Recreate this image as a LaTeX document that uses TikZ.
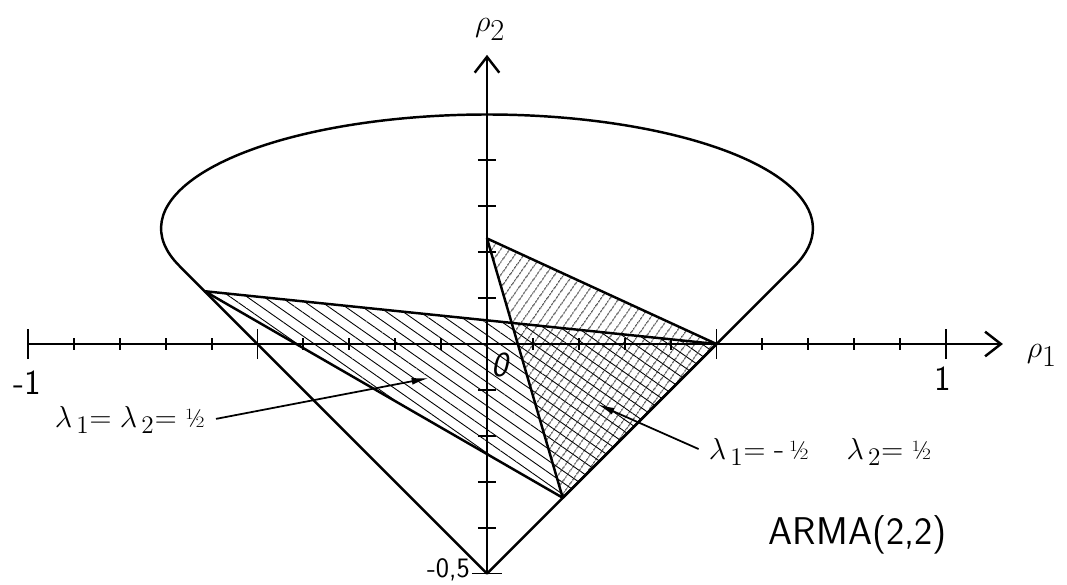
\documentclass[tikz,border=0pt]{standalone}
\usepackage{fontspec}
\usetikzlibrary{arrows.meta,patterns.meta}
\newcommand{\halfnum}{\mbox{\fontsize{15}{18}\selectfont ½}}
\begin{document}
\begin{tikzpicture}[x=9.18cm,y=9.18cm,
    edge/.style={line width=1.4pt, line join=round},
    tick/.style={line width=1.1pt},
    numlbl/.style={font=\sffamily\fontsize{20}{24}\selectfont, inner sep=1pt},
    lamlbl/.style={font=\fontsize{19}{22}\selectfont, inner sep=2pt},
    pointer/.style={line width=1pt, -{Latex[length=10pt,width=4pt]}, shorten <=4pt}]
  \useasboundingbox (-1.0610,-0.5229) rectangle (1.2636,0.7495);

  % corners of the two triangles
  \coordinate (L) at (-0.615,0.115);
  \coordinate (P) at (0.5,0);
  \coordinate (Q) at (0.165,-0.335);
  \coordinate (T) at (0,0.23);

  % hatching
  \fill[pattern={Lines[angle=-35,distance=5.5pt,line width=0.5pt]}] (L) -- (P) -- (Q) -- cycle;
  \fill[pattern={Lines[angle=55,distance=4pt,line width=0.5pt]}] (T) -- (P) -- (Q) -- cycle;

  % cone with the elliptic cap
  \draw[edge] (0,-0.5) -- (-0.670,0.170) arc[start angle=199.3, end angle=-19.3, x radius=0.71, y radius=0.248] -- cycle;

  % triangle edges
  \draw[edge] (L) -- (P) -- (Q) -- cycle;
  \draw[edge] (P) -- (T) -- (Q);

  % axes
  \draw[edge, -{Straight Barb[length=9pt,width=14pt]}] (-1,0) -- (1.124,0);
  \draw[edge, -{Straight Barb[length=9pt,width=14pt]}] (0,-0.5) -- (0,0.630);
  \node[font=\fontsize{16}{19}\selectfont] (rho1) at (1.209,-0.024) {$\rho_{\textstyle 1}$};
  \node[font=\fontsize{16}{19}\selectfont] (rho2) at (0.007,0.686) {$\rho_{\textstyle 2}$};

  % ticks
  \foreach \x in {-0.9,-0.8,-0.7,-0.6,-0.4,-0.3,-0.2,-0.1,0.1,0.2,0.3,0.4,0.6,0.7,0.8,0.9}
    \draw[tick] (\x,-0.013) -- (\x,0.013);
  \foreach \x in {-1,-0.5,0.5,1}
    \draw[tick] (\x,-0.033) -- (\x,0.033);
  \foreach \y in {-0.4,-0.3,-0.2,-0.1,0.1,0.2,0.3,0.4}
    \draw[tick] (-0.02,\y) -- (0.02,\y);
  \draw[tick] (-0.033,-0.5) -- (0.033,-0.5);

  % numbers
  \node[numlbl] (mone) at (-1.002,-0.085) {-1};
  \node[numlbl] (one) at (0.993,-0.076) {1};
  \node[numlbl, font=\sffamily\slshape\fontsize{20}{24}\selectfont] (zero) at (0.028,-0.046) {0};
  \node[numlbl, font=\sffamily\fontsize{16}{19}\selectfont, anchor=east] (mhalf) at (-0.033,-0.492) {-0,5};

  % pointers to the regions
  \node[lamlbl, anchor=west] (labA) at (-0.950,-0.166) {$\lambda_{\,1}{=}\;\lambda_{\,2}{=}\;\halfnum$};
  \coordinate (tipA) at (-0.126,-0.074);
  \draw[pointer] (labA.east) -- (tipA);

  \node[lamlbl, anchor=west] (labB) at (0.475,-0.235) {$\lambda_{\,1}{=}\;\mbox{-}\,\halfnum$};
  \node[lamlbl, anchor=west] (labC) at (0.775,-0.235) {$\lambda_{\,2}{=}\;\halfnum$};
  \coordinate (tipB) at (0.240,-0.131);
  \draw[pointer] (labB.west) -- (tipB);

  \node[numlbl, font=\sffamily\fontsize{22}{26}\selectfont] (arma) at (0.808,-0.416) {ARMA(2,2)};
\end{tikzpicture}
\end{document}
